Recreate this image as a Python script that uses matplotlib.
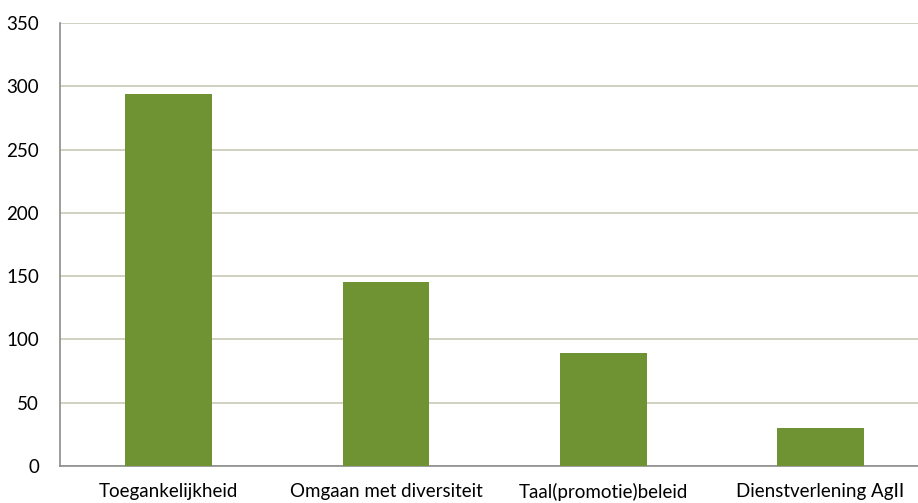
import matplotlib
matplotlib.use("Agg")
import matplotlib.pyplot as plt

categories = ["Toegankelijkheid", "Omgaan met diversiteit", "Taal(promotie)beleid", "Dienstverlening AgII"]
values = [294, 145, 89, 30]
yticks = [0, 50, 100, 150, 200, 250, 300, 350]

plt.rcParams["font.family"] = ["Lato", "DejaVu Sans"]

fig = plt.figure(figsize=(9.18, 5.03), dpi=100)
# plot area runs a little past the right edge of the image
ax = fig.add_axes([0.0654, 0.0736, 0.9468, 0.8807])

x = list(range(len(categories)))
ax.bar(x, values, width=0.40, color="#6f9232", zorder=3)

ax.set_xlim(-0.5, len(categories) - 0.5)
ax.set_ylim(0, 350)
ax.set_yticks(yticks)
ax.set_xticks(x)
ax.set_xticklabels(categories, fontsize=13.5)
ax.tick_params(axis="y", labelsize=13.5, length=0, pad=15)
ax.tick_params(axis="x", length=0, pad=12)

ax.grid(axis="y", color="#c9c9b8", linewidth=1.2, zorder=0)
for s in ["top", "right"]:
    ax.spines[s].set_visible(False)
ax.spines["left"].set_color("#8c8c8c")
ax.spines["bottom"].set_color("#8c8c8c")
ax.spines["left"].set_linewidth(1.2)
ax.spines["bottom"].set_linewidth(1.2)

fig.savefig("out.png", dpi=100)
